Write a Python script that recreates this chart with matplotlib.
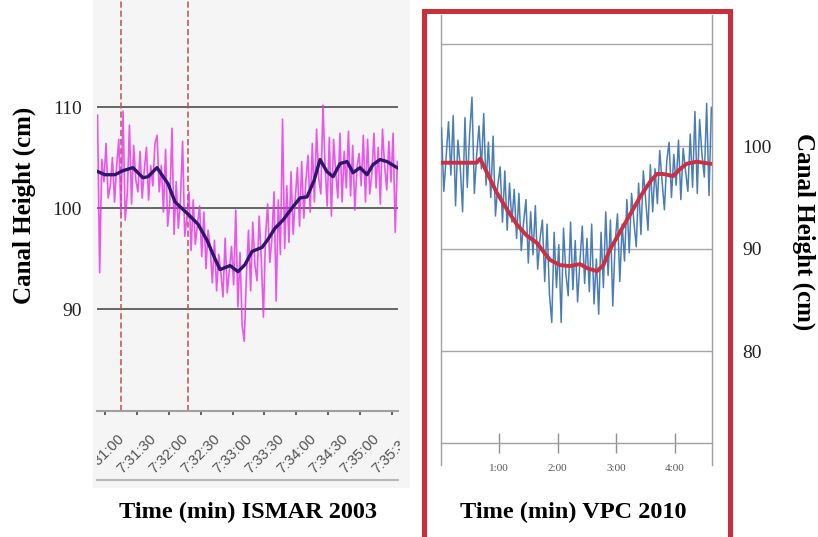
"""
Canal height over time: ISMAR 2003 vs VPC 2010
"""
import numpy as np
import matplotlib.pyplot as plt
from matplotlib.patches import Rectangle
from matplotlib.lines import Line2D
from matplotlib.transforms import Bbox, TransformedBbox

W, H = 818, 537

# ---- ISMAR 2003 (left) : seconds after 7:30:00 ----
ismar_raw_t = np.arange(53, 336, 2)
ismar_raw = [
    109.2, 93.6, 104.8, 102.6, 106.4, 101.0, 102.2, 105.0, 100.6, 104.2,
    106.8, 99.4, 109.6, 98.8, 101.4, 108.2, 100.4, 106.2, 102.8, 101.6,
    105.6, 101.0, 103.8, 106.0, 100.8, 104.2, 102.2, 106.4, 107.2, 101.6,
    104.2, 99.6, 105.8, 98.2, 100.6, 107.9, 97.4, 102.6, 98.0, 100.8,
    106.6, 97.2, 99.0, 101.6, 95.8, 100.8, 96.4, 98.4, 100.2, 95.2,
    99.6, 94.0, 97.8, 96.0, 92.6, 96.8, 91.8, 95.4, 93.6, 91.2,
    97.0, 91.6, 93.8, 96.2, 92.4, 99.8, 90.2, 95.6, 88.4, 86.8,
    93.2, 97.8, 91.8, 98.6, 94.4, 92.8, 99.2, 95.0, 89.2, 97.2,
    100.4, 94.6, 97.0, 101.6, 90.8, 100.8, 95.4, 108.8, 96.0, 102.2,
    96.6, 103.6, 97.4, 101.0, 104.0, 98.2, 104.6, 99.0, 102.8, 105.2,
    99.6, 106.4, 100.6, 107.8, 103.0, 101.4, 110.2, 104.2, 100.2, 107.0,
    99.2, 106.8, 103.6, 101.0, 107.4, 100.6, 105.6, 102.0, 107.6, 101.2,
    106.2, 99.8, 104.0, 105.4, 102.2, 107.2, 100.6, 106.8, 101.4, 103.4,
    107.4, 102.0, 106.0, 100.4, 107.8, 104.2, 101.8, 106.6, 102.6, 107.4,
    97.6, 104.6,
]
ismar_smooth_t = [53.4, 60.0, 69.4, 76.9, 86.3, 95.7, 100.5, 108.9, 119.3, 125.9,
                  138.1, 147.5, 156.0, 162.5, 168.2, 177.6, 185.1, 191.7, 198.3, 207.7,
                  213.3, 219.9, 227.4, 235.9, 243.4, 250.0, 256.6, 262.3, 268.8, 274.5,
                  281.1, 287.7, 293.3, 299.9, 306.5, 312.1, 318.7, 325.3, 334.7]
ismar_smooth = [103.6, 103.3, 103.3, 103.7, 104.0, 103.0, 103.1, 104.0, 102.4, 100.6,
                99.4, 98.4, 96.8, 95.2, 93.9, 94.3, 93.7, 94.4, 95.7, 96.1,
                96.9, 98.0, 98.8, 100.0, 101.0, 101.1, 102.7, 104.8, 103.6, 103.1,
                104.4, 104.6, 103.5, 104.0, 103.3, 104.3, 104.8, 104.6, 104.0]
ismar_marks = [75.1, 138.1]
ismar_ticks = [60, 90, 120, 150, 180, 210, 240, 270, 300, 330]
ismar_labels = ['7:31:00', '7:31:30', '7:32:00', '7:32:30', '7:33:00',
                '7:33:30', '7:34:00', '7:34:30', '7:35:00', '7:35:30']
ismar_grid = [90, 100, 110]

# ---- VPC 2010 (right) : minutes ----
vpc_raw_t = np.arange(0.02, 4.63, 0.04)
vpc_raw = [
    101.8, 95.6, 99.0, 102.4, 97.2, 103.0, 94.2, 100.6, 98.0, 93.6,
    102.8, 96.0, 101.2, 104.8, 95.4, 99.2, 102.0, 97.8, 103.2, 96.2,
    100.4, 95.0, 101.0, 93.2, 96.2, 98.0, 92.6, 97.6, 91.8, 96.4,
    92.6, 95.8, 91.0, 95.4, 89.8, 92.6, 94.8, 88.6, 93.6, 89.4,
    94.2, 88.0, 91.0, 92.8, 86.8, 92.4, 85.6, 82.8, 91.6, 86.2,
    90.4, 82.8, 92.0, 87.6, 85.4, 92.6, 86.0, 90.8, 84.8, 88.8,
    92.2, 86.6, 91.0, 85.8, 92.4, 84.6, 89.0, 83.6, 91.6, 86.2,
    93.6, 87.4, 92.8, 84.4, 90.6, 93.4, 86.8, 92.4, 88.8, 94.8,
    89.6, 95.4, 92.6, 90.2, 96.4, 91.4, 97.6, 94.8, 91.8, 98.2,
    93.6, 97.8, 94.4, 99.6, 96.6, 93.8, 98.6, 100.4, 95.0, 99.2,
    96.2, 100.6, 94.8, 99.8, 97.6, 95.6, 101.2, 96.0, 103.4, 95.4,
    102.6, 99.2, 97.0, 104.2, 95.2, 103.8,
]
vpc_smooth_t = [0.01, 0.62, 0.68, 0.79, 0.96, 1.13, 1.30, 1.47, 1.64, 1.76,
                1.87, 2.04, 2.21, 2.38, 2.50, 2.67, 2.78, 2.89, 3.06, 3.23,
                3.40, 3.57, 3.69, 3.80, 3.97, 4.09, 4.20, 4.37, 4.60]
vpc_smooth = [98.4, 98.4, 98.8, 97.5, 95.5, 93.9, 92.4, 91.3, 90.6, 89.7,
              88.9, 88.4, 88.3, 88.5, 88.1, 87.8, 88.4, 89.9, 91.6, 93.3,
              95.0, 96.5, 97.3, 97.3, 97.1, 97.8, 98.3, 98.5, 98.3]
vpc_ticks = [1, 2, 3, 4]
vpc_labels = ['1:00', '2:00', '3:00', '4:00']
vpc_grid = [80, 90, 100, 110]
vpc_ylabels = ['80', '90', '100', '']

serif = 'Liberation Serif'


def px_axes(x0, y0, x1, y1):
    # box given in image pixels (y from top)
    return fig.add_axes([x0 / W, 1 - y1 / H, (x1 - x0) / W, (y1 - y0) / H])


fig = plt.figure(figsize=(W / 100, H / 100), dpi=100)

# light grey backdrop behind the left chart
fig.add_artist(Rectangle((93 / W, 1 - 488 / H), 317 / W, 488 / H,
                         transform=fig.transFigure, facecolor='#f5f5f5',
                         edgecolor='none', zorder=0))

# ---------------- left chart ----------------
ax1 = px_axes(97, 0, 398, 411)
ax1.patch.set_visible(False)
ax1.set_xlim(52.5, 335.6)
ax1.set_ylim(79.9, 120.6)
for g in ismar_grid:
    ax1.axhline(g, color='#5a5a5a', lw=1.3, zorder=1)
for m in ismar_marks:
    ax1.axvline(m, color='#c0504d', lw=1.1, ls=(0, (4, 2)), zorder=2)
ax1.plot(ismar_raw_t, ismar_raw, color='#e62ee6', lw=1.2, alpha=0.8, zorder=3)
ax1.plot(ismar_smooth_t, ismar_smooth, color='#2b1670', lw=2.4, zorder=4)

for s in ['top', 'left', 'right']:
    ax1.spines[s].set_visible(False)
ax1.spines['bottom'].set_color('#a0a0a0')
ax1.spines['bottom'].set_linewidth(1.5)
ax1.set_yticks(ismar_grid)
ax1.set_yticklabels([str(v) for v in ismar_grid], fontfamily=serif, fontsize=14)
ax1.tick_params(axis='y', length=0, pad=11, colors='#222222')
ax1.set_xticks(ismar_ticks)
ax1.set_xticklabels(ismar_labels, rotation=45, ha='center', va='top',
                    fontfamily='Liberation Sans', fontsize=10.5, color='#505050')
ax1.tick_params(axis='x', direction='out', length=3, width=1.2,
                color='#444444', pad=12)

clip = TransformedBbox(Bbox.from_extents(97 / W, 0, 400 / W, 1), fig.transFigure)
for lbl in ax1.get_xticklabels():
    lbl.set_clip_box(clip)
    lbl.set_clip_on(True)

fig.add_artist(Line2D([97 / W, 398 / W], [1 - 480 / H, 1 - 480 / H],
                      transform=fig.transFigure, color='#b8b8b8', lw=1.5))

fig.text(24 / W, 1 - 205 / H, 'Canal Height (cm)', rotation=90, ha='center',
         va='center', fontfamily=serif, fontweight='bold', fontsize=18)
fig.text(248 / W, 1 - 512 / H, 'Time (min) ISMAR 2003', ha='center', va='center',
         fontfamily=serif, fontweight='bold', fontsize=17.5)

# ---------------- right chart ----------------
ax2 = px_axes(441, 15, 712, 465)
ax2.patch.set_visible(False)
ax2.set_xlim(0.012, 4.631)
ax2.set_ylim(68.87, 112.83)
for g in vpc_grid:
    ax2.axhline(g, color='#a8a8a8', lw=1.0, zorder=1)
ax2.plot(vpc_raw_t, vpc_raw, color='#4a7db8', lw=1.1, zorder=3)
ax2.plot(vpc_smooth_t, vpc_smooth, color='#cc2f3f', lw=2.8, zorder=4)

ax2.spines['top'].set_visible(False)
for s in ['left', 'right', 'bottom']:
    ax2.spines[s].set_color('#a0a0a0')
    ax2.spines[s].set_linewidth(1.0)
ax2.spines['bottom'].set_position(('data', 71.0))
ax2.yaxis.tick_right()
ax2.set_yticks(vpc_grid)
ax2.set_yticklabels(vpc_ylabels, fontfamily=serif, fontsize=14)
ax2.tick_params(axis='y', length=0, pad=22, colors='#222222')
ax2.set_xticks(vpc_ticks)
ax2.set_xticklabels(vpc_labels, fontfamily=serif, fontsize=8, color='#555555')
ax2.tick_params(axis='x', direction='inout', length=14, width=1.0,
                color='#909090', pad=8)

fig.add_artist(Rectangle((423.5 / W, 1 - 545 / H), 306 / W, (545 - 10.5) / H,
                         transform=fig.transFigure, facecolor='none',
                         edgecolor='#cc2f3a', lw=3.6, zorder=10))

fig.text(804 / W, 1 - 232 / H, 'Canal Height (cm)', rotation=-90, ha='center',
         va='center', fontfamily=serif, fontweight='bold', fontsize=18)
fig.text(573 / W, 1 - 512 / H, 'Time (min) VPC 2010', ha='center', va='center',
         fontfamily=serif, fontweight='bold', fontsize=17.5)

fig.savefig('out.png', dpi=100)
